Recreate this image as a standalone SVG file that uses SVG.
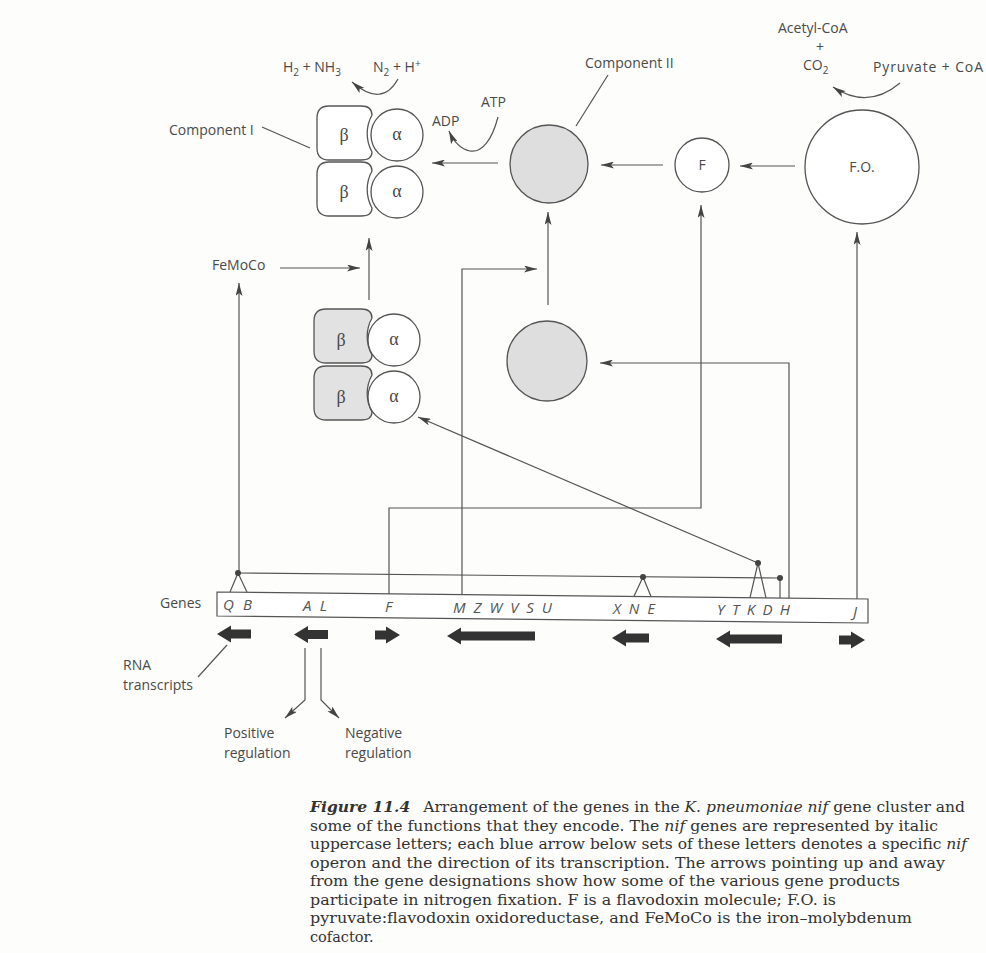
<svg xmlns="http://www.w3.org/2000/svg" width="986" height="953" viewBox="0 0 986 953">
<defs>
<marker id="ah" viewBox="0 0 13 7" refX="13" refY="3.5" markerWidth="13" markerHeight="7" markerUnits="userSpaceOnUse" orient="auto">
<path d="M0,0 L13,3.5 L0,7 L3,3.5 Z" fill="#444"/>
</marker>
<style>
.ln{fill:none;stroke:#555;stroke-width:1.2}
.lbl{font-family:"Open Sans","Liberation Sans",sans-serif;font-size:14px;fill:#4a4a4a}
.gr{font-family:"Liberation Serif","DejaVu Serif",serif;font-size:18px;fill:#4a4a4a}
.gene{font-family:"Open Sans","Liberation Sans",sans-serif;font-size:15px;font-style:italic;fill:#555}
.box{fill:#fff;stroke:#555;stroke-width:1.3}
.boxg{fill:#e2e2e2;stroke:#555;stroke-width:1.3}
.circ{fill:#fff;stroke:#555;stroke-width:1.3}
.circg{fill:#dedede;stroke:#555;stroke-width:1.3}
.ta{fill:#333}
.dot{fill:#444}
.cap{font-family:"DejaVu Serif","Liberation Serif",serif;font-size:14.5px;fill:#333}
</style>
</defs>
<rect width="986" height="953" fill="#fdfdfb"/>

<g id="component-I">
<path class="box" d="M329,106 H361 Q372,106 372,115 A38 38 0 0 0 372,152 Q372,160 361,160 H329 Q317,160 317,148 V118 Q317,106 329,106 Z"/>
<path class="box" d="M329,162 H361 Q372,162 372,171 A38 38 0 0 0 372,208 Q372,216 361,216 H329 Q317,216 317,204 V174 Q317,162 329,162 Z"/>
<circle class="circ" cx="397" cy="135" r="26"/>
<circle class="circ" cx="397" cy="192" r="26"/>
<text class="gr" x="344" y="141" text-anchor="middle">β</text>
<text class="gr" x="344" y="198" text-anchor="middle">β</text>
<text class="gr" x="397" y="140" text-anchor="middle">α</text>
<text class="gr" x="397" y="197" text-anchor="middle">α</text>
<text class="lbl" x="169" y="135">Component I</text>
</g>

<g id="component-II">
<circle class="circg" cx="549" cy="164" r="39"/>
<text class="lbl" x="585" y="68">Component II</text>
</g>

<g id="flavodoxin">
<circle class="circ" cx="702" cy="165" r="27"/>
<text class="lbl" x="702" y="170" text-anchor="middle">F</text>
</g>

<g id="fo">
<circle class="circ" cx="862" cy="167" r="57"/>
<text class="lbl" x="862" y="172" text-anchor="middle">F.O.</text>
</g>

<g id="precursor-complex">
<path class="boxg" d="M326,309 H361 Q372,309 372,318 A38 38 0 0 0 372,355 Q372,363 361,363 H326 Q314,363 314,351 V321 Q314,309 326,309 Z"/>
<path class="boxg" d="M326,366 H361 Q372,366 372,375 A38 38 0 0 0 372,412 Q372,420 361,420 H326 Q314,420 314,408 V378 Q314,366 326,366 Z"/>
<circle class="circ" cx="394" cy="340" r="26"/>
<circle class="circ" cx="394" cy="397" r="26"/>
<text class="gr" x="341" y="346" text-anchor="middle">β</text>
<text class="gr" x="341" y="403" text-anchor="middle">β</text>
<text class="gr" x="394" y="345" text-anchor="middle">α</text>
<text class="gr" x="394" y="402" text-anchor="middle">α</text>
</g>

<g id="precursor-II">
<circle class="circg" cx="547" cy="361" r="40"/>
</g>

<g id="femoco">
<text class="lbl" x="212" y="270">FeMoCo</text>
</g>

<g id="reactions">
<text class="lbl" x="283" y="72">H<tspan font-size="10" dy="4">2</tspan><tspan dy="-4"> + NH</tspan><tspan font-size="10" dy="4">3</tspan></text>
<text class="lbl" x="373" y="72">N<tspan font-size="10" dy="4">2</tspan><tspan dy="-4"> + H</tspan><tspan font-size="10" dy="-5">+</tspan></text>
<text class="lbl" x="481" y="107">ATP</text>
<text class="lbl" x="432" y="126">ADP</text>
<text class="lbl" x="778" y="33">Acetyl-CoA</text>
<text class="lbl" x="820" y="52" text-anchor="middle">+</text>
<text class="lbl" x="803" y="70">CO<tspan font-size="10" dy="4">2</tspan></text>
<text class="lbl" x="873" y="72" textLength="110" lengthAdjust="spacing">Pyruvate + CoA</text>
</g>

<g id="genes">
<text class="lbl" x="160" y="608">Genes</text>
<polygon points="217,592 868,599 868,623 217,616" fill="#fff" stroke="#555" stroke-width="1.2"/>
<text class="gene" x="223" y="610" textLength="29" lengthAdjust="spacing">QB</text>
<text class="gene" x="303" y="611" textLength="24" lengthAdjust="spacing">AL</text>
<text class="gene" x="385" y="612">F</text>
<text class="gene" x="453" y="612.5" textLength="99" lengthAdjust="spacing">MZWVSU</text>
<text class="gene" x="613" y="614" textLength="42" lengthAdjust="spacing">XNE</text>
<text class="gene" x="717" y="615" textLength="73" lengthAdjust="spacing">YTKDH</text>
<text class="gene" x="853" y="617">J</text>
</g>

<g id="transcripts">
<polygon class="ta" points="217,634 231,625.5 231,629.5 251,629.5 251,638.5 231,638.5 231,642.5"/>
<polygon class="ta" points="294,634.5 308,626 308,630 328,630 328,639 308,639 308,643"/>
<polygon class="ta" points="400,635 386,626.5 386,630.5 375,630.5 375,639.5 386,639.5 386,643.5"/>
<polygon class="ta" points="447,636 461,627.5 461,631.5 535,631.5 535,640.5 461,640.5 461,644.5"/>
<polygon class="ta" points="612,638 626,629.5 626,633.5 649,633.5 649,642.5 626,642.5 626,646.5"/>
<polygon class="ta" points="716,639 730,630.5 730,634.5 782,634.5 782,643.5 730,643.5 730,647.5"/>
<polygon class="ta" points="865,640 851,631.5 851,635.5 839,635.5 839,644.5 851,644.5 851,648.5"/>
<text class="lbl" x="123" y="670">RNA</text>
<text class="lbl" x="123" y="690">transcripts</text>
<text class="lbl" x="224" y="738">Positive</text>
<text class="lbl" x="224" y="758">regulation</text>
<text class="lbl" x="345" y="738">Negative</text>
<text class="lbl" x="345" y="758">regulation</text>
</g>

<g id="connectors">
<line class="ln" x1="498" y1="163" x2="432" y2="163" marker-end="url(#ah)"/>
<line class="ln" x1="663" y1="165" x2="601" y2="165" marker-end="url(#ah)"/>
<line class="ln" x1="795" y1="166" x2="740" y2="166" marker-end="url(#ah)"/>
<line class="ln" x1="239" y1="573" x2="239" y2="283" marker-end="url(#ah)"/>
<line class="ln" x1="280" y1="268" x2="360" y2="268" marker-end="url(#ah)"/>
<line class="ln" x1="369" y1="300" x2="369" y2="238" marker-end="url(#ah)"/>
<polyline class="ln" points="462,594.6 462,269 537,269" marker-end="url(#ah)"/>
<line class="ln" x1="548" y1="305" x2="548" y2="212" marker-end="url(#ah)"/>
<polyline class="ln" points="389,593.9 389,508 701,508 701,205" marker-end="url(#ah)"/>
<polyline class="ln" points="789,598.2 789,363 600,363" marker-end="url(#ah)"/>
<line class="ln" x1="857" y1="598.9" x2="857" y2="232" marker-end="url(#ah)"/>
<line class="ln" x1="758" y1="563" x2="418" y2="417" marker-end="url(#ah)"/>
<path class="ln" d="M398,79 Q382,108 352,82" marker-end="url(#ah)"/>
<path class="ln" d="M498,117 C492,140 482,153 470,151 C460,149 453,140 449,131" marker-end="url(#ah)"/>
<path class="ln" d="M900,83 Q868,110 833,87" marker-end="url(#ah)"/>
<line class="ln" x1="262" y1="127" x2="310" y2="148"/>
<line class="ln" x1="608" y1="75" x2="576" y2="126"/>
<line class="ln" x1="198" y1="677" x2="227" y2="645"/>
<polyline class="ln" points="305,648 305,700 285,718" marker-end="url(#ah)"/>
<polyline class="ln" points="321,648 321,700 339,718" marker-end="url(#ah)"/>
<line class="ln" x1="238" y1="573" x2="780" y2="578"/>
<polyline class="ln" points="230,592.1 238,573 247,592.3"/>
<polyline class="ln" points="634,596.3 643,577 651,596.5"/>
<polyline class="ln" points="750,597.7 758,563 766,597.9"/>
<line class="ln" x1="780" y1="578" x2="780" y2="598"/>
<circle class="dot" cx="238" cy="573" r="3"/>
<circle class="dot" cx="643" cy="577" r="3"/>
<circle class="dot" cx="758" cy="563" r="3"/>
<circle class="dot" cx="780" cy="578" r="3"/>
</g>

<g id="caption">
<text class="cap" x="310" y="812" textLength="655" lengthAdjust="spacingAndGlyphs"><tspan font-weight="bold" font-style="italic">Figure 11.4</tspan><tspan dx="12">Arrangement of the genes in the </tspan><tspan font-style="italic">K. pneumoniae nif</tspan> gene cluster and</text>
<text class="cap" x="310" y="830.5" textLength="628" lengthAdjust="spacingAndGlyphs">some of the functions that they encode. The <tspan font-style="italic">nif</tspan> genes are represented by italic</text>
<text class="cap" x="310" y="849" textLength="657" lengthAdjust="spacingAndGlyphs">uppercase letters; each blue arrow below sets of these letters denotes a specific <tspan font-style="italic">nif</tspan></text>
<text class="cap" x="310" y="867.5" textLength="635" lengthAdjust="spacingAndGlyphs">operon and the direction of its transcription. The arrows pointing up and away</text>
<text class="cap" x="310" y="886" textLength="590" lengthAdjust="spacingAndGlyphs">from the gene designations show how some of the various gene products</text>
<text class="cap" x="310" y="904.5" textLength="526" lengthAdjust="spacingAndGlyphs">participate in nitrogen fixation. F is a flavodoxin molecule; F.O. is</text>
<text class="cap" x="310" y="923" textLength="602" lengthAdjust="spacingAndGlyphs">pyruvate:flavodoxin oxidoreductase, and FeMoCo is the iron–molybdenum</text>
<text class="cap" x="310" y="941.5">cofactor.</text>
</g>
</svg>
